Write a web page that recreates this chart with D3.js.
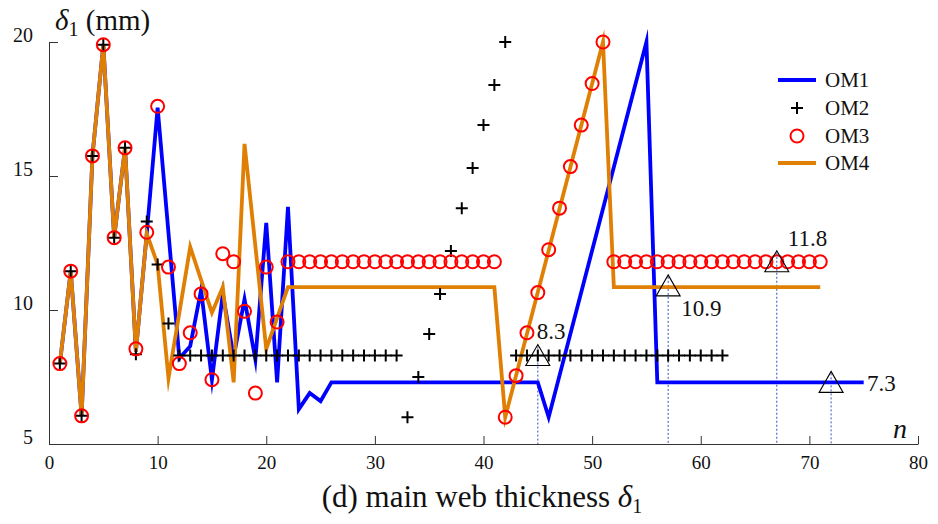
<!DOCTYPE html>
<html>
<head>
<meta charset="utf-8">
<script src="https://cdn.jsdelivr.net/npm/d3@7"></script>
<style>
  body { margin: 0; background: #fff; }
  svg { display: block; }
  svg text { font-family: "Liberation Serif", "Times New Roman", Times, serif !important; fill: #111; }
</style>
</head>
<body>
<svg id="chart" width="938" height="524"></svg>
<script>
// Axis ticks
const xTickValues = [0, 10, 20, 30, 40, 50, 60, 70, 80];
const yTickValues = [5, 10, 15, 20];

// OM1: optimisation history (line vertices)
const om1N   = [1, 2, 3, 4, 5, 6, 7, 8, 9, 10, 12, 13, 14, 15, 16, 17, 18, 19, 20, 21, 22, 23, 24, 25, 26, 45, 46, 55, 56, 75];
const om1Val = [8.0, 11.45, 6.05, 15.75, 19.9, 12.7, 16.05, 8.45, 12.85, 17.55, 8.2, 8.65, 10.75, 7.4, 10.6, 8.25, 10.4, 8.15, 13.25, 7.3, 13.85, 6.3, 6.9, 6.6, 7.3, 7.3, 6.0, 20.0, 7.3, 7.3];

// OM2: one marker per iteration
const om2N = d3.range(1, 63);
const om2Val = [
  8.0, 11.45, 6.05, 15.75, 19.9, 12.7, 16.05, 8.35, 13.3, 11.7,
  9.5, 8.3, 8.3, 8.3, 8.3, 8.3, 8.3, 8.3, 8.3, 8.3,
  8.3, 8.3, 8.3, 8.3, 8.3, 8.3, 8.3, 8.3, 8.3, 8.3,
  8.3, 8.3, 6.0, 7.5, 9.1, 10.6, 12.2, 13.8, 15.3, 16.9,
  18.4, 20.0, 8.3, 8.3, 8.3, 8.3, 8.3, 8.3, 8.3, 8.3,
  8.3, 8.3, 8.3, 8.3, 8.3, 8.3, 8.3, 8.3, 8.3, 8.3,
  8.3, 8.3
];

// OM3: one marker per iteration
const om3N = d3.range(1, 72);
const om3Val = [
  8.0, 11.45, 6.05, 15.75, 19.9, 12.7, 16.05, 8.55, 12.9, 17.6,
  11.6, 8.0, 9.15, 10.6, 7.4, 12.1, 11.8, 9.95, 6.9, 11.6,
  9.55, 11.8, 11.8, 11.8, 11.8, 11.8, 11.8, 11.8, 11.8, 11.8,
  11.8, 11.8, 11.8, 11.8, 11.8, 11.8, 11.8, 11.8, 11.8, 11.8,
  11.8, 6.0, 7.55, 9.15, 10.65, 12.25, 13.8, 15.35, 16.9, 18.45,
  20.0, 11.8, 11.8, 11.8, 11.8, 11.8, 11.8, 11.8, 11.8, 11.8,
  11.8, 11.8, 11.8, 11.8, 11.8, 11.8, 11.8, 11.8, 11.8, 11.8,
  11.8
];

// OM4: optimisation history (line vertices)
const om4N   = [1, 2, 3, 4, 5, 6, 7, 8, 9, 10, 11, 13, 15, 16, 17, 18, 20, 22, 41, 42, 51, 52, 71];
const om4Val = [8.0, 11.45, 6.05, 15.75, 19.9, 12.7, 16.05, 8.45, 12.85, 11.7, 7.45, 12.35, 9.9, 10.85, 7.3, 16.2, 8.55, 10.85, 10.85, 6.0, 20.0, 10.85, 10.85];

// Optimum markers
const optN     = [45, 57, 67, 72];
const optVal   = [8.3, 10.9, 11.8, 7.3];
const optLabel = ["8.3", "10.9", "11.8", "7.3"];

const legendNames = ["OM1", "OM2", "OM3", "OM4"];

const BLUE = "#0000ff", ORANGE = "#df8005", RED = "#ff0000";
const SERIF = '"Liberation Serif", "Times New Roman", Times, serif';

const svg = d3.select("#chart");
const x = d3.scaleLinear().domain([0, 80]).range([49, 918]);
const y = d3.scaleLinear().domain([5, 20]).range([444, 42]);

// Axes (ticks pointing inward, open frame)
const xAxis = svg.append("g")
  .attr("transform", `translate(0,${y(5)})`)
  .call(d3.axisBottom(x).tickValues(xTickValues).tickSize(-8).tickSizeOuter(0).tickPadding(12));
const yAxis = svg.append("g")
  .attr("transform", `translate(${x(0)},0)`)
  .call(d3.axisLeft(y).tickValues(yTickValues).tickSize(-9).tickSizeOuter(0).tickPadding(16));
[xAxis, yAxis].forEach(g => {
  g.attr("font-family", SERIF).attr("font-size", 19);
  g.selectAll("path, line").attr("stroke", "#333").attr("stroke-width", 1);
  g.selectAll("text").attr("fill", "#111");
});
yAxis.attr("font-size", 20);
yAxis.selectAll("text").attr("dy", "-0.05em");

const pts = (ns, vs) => ns.map((n, i) => [n, vs[i]]);
const line = d3.line().x(d => x(d[0])).y(d => y(d[1]));

// Dotted guides from the optima down to the n axis
const opt = pts(optN, optVal);
svg.append("g").selectAll("line").data(opt).join("line")
  .attr("x1", d => x(d[0])).attr("x2", d => x(d[0]))
  .attr("y1", d => y(d[1]) - 9).attr("y2", y(5))
  .attr("stroke", "#3050c0").attr("stroke-width", 1).attr("stroke-dasharray", "2,2");

// Lines
svg.append("path").datum(pts(om1N, om1Val)).attr("d", line)
  .attr("fill", "none").attr("stroke", BLUE).attr("stroke-width", 3.8).attr("stroke-linejoin", "miter").attr("stroke-miterlimit", 10);
svg.append("path").datum(pts(om4N, om4Val)).attr("d", line)
  .attr("fill", "none").attr("stroke", ORANGE).attr("stroke-width", 3.8).attr("stroke-linejoin", "miter").attr("stroke-miterlimit", 10);

// Markers
const plusPath = "M-6,0H6M0,-6V6";
svg.append("g").selectAll("path").data(pts(om2N, om2Val)).join("path")
  .attr("transform", d => `translate(${x(d[0])},${y(d[1])})`)
  .attr("d", plusPath).attr("stroke", "#000").attr("stroke-width", 2).attr("fill", "none");
svg.append("g").selectAll("circle").data(pts(om3N, om3Val)).join("circle")
  .attr("cx", d => x(d[0])).attr("cy", d => y(d[1])).attr("r", 6.5)
  .attr("fill", "none").attr("stroke", RED).attr("stroke-width", 2);

// Triangles at the optima
svg.append("g").selectAll("path").data(opt).join("path")
  .attr("transform", d => `translate(${x(d[0])},${y(d[1])})`)
  .attr("d", "M0,-11L12,10L-12,10Z")
  .attr("fill", "none").attr("stroke", "#000").attr("stroke-width", 1.1);

// Value labels next to the optima
const labelOffset = [[-1, -17], [13, 30], [11, -16], [36, 9]];
svg.append("g").selectAll("text").data(opt).join("text")
  .attr("x", (d, i) => x(d[0]) + labelOffset[i][0])
  .attr("y", (d, i) => y(d[1]) + labelOffset[i][1])
  .attr("font-family", SERIF).attr("font-size", 23)
  .text((d, i) => optLabel[i]);

// Axis titles
const yTitle = svg.append("text").attr("x", 55).attr("y", 30).attr("font-family", SERIF).attr("font-size", 29);
yTitle.append("tspan").attr("font-style", "italic").text("δ");
yTitle.append("tspan").attr("font-size", 20).attr("dy", 6).text("1");
yTitle.append("tspan").attr("dy", -6).text(" (mm)");

svg.append("text").attr("x", 893).attr("y", 438).attr("font-family", SERIF)
  .attr("font-size", 28).attr("font-style", "italic").text("n");

const caption = svg.append("text").attr("x", 482).attr("y", 507).attr("text-anchor", "middle")
  .attr("font-family", SERIF).attr("font-size", 31);
caption.append("tspan").text("(d) main web thickness ");
caption.append("tspan").attr("font-style", "italic").text("δ");
caption.append("tspan").attr("font-size", 20).attr("dy", 6).text("1");

// Legend
const lg = svg.append("g").attr("transform", "translate(778,0)");
const rowY = [80, 108, 136, 163];
legendNames.forEach((name, i) => {
  const ry = rowY[i];
  if (i === 0 || i === 3) {
    lg.append("line").attr("x1", 0).attr("x2", 38).attr("y1", ry).attr("y2", ry)
      .attr("stroke", i === 0 ? BLUE : ORANGE).attr("stroke-width", 3.8);
  } else if (i === 1) {
    lg.append("path").attr("transform", `translate(19,${ry})`).attr("d", plusPath)
      .attr("stroke", "#000").attr("stroke-width", 2);
  } else {
    lg.append("circle").attr("cx", 19).attr("cy", ry).attr("r", 6.5)
      .attr("fill", "none").attr("stroke", RED).attr("stroke-width", 2);
  }
  lg.append("text").attr("x", 47).attr("y", ry + 7).attr("font-family", SERIF)
    .attr("font-size", 21).text(name);
});
</script>
</body>
</html>
